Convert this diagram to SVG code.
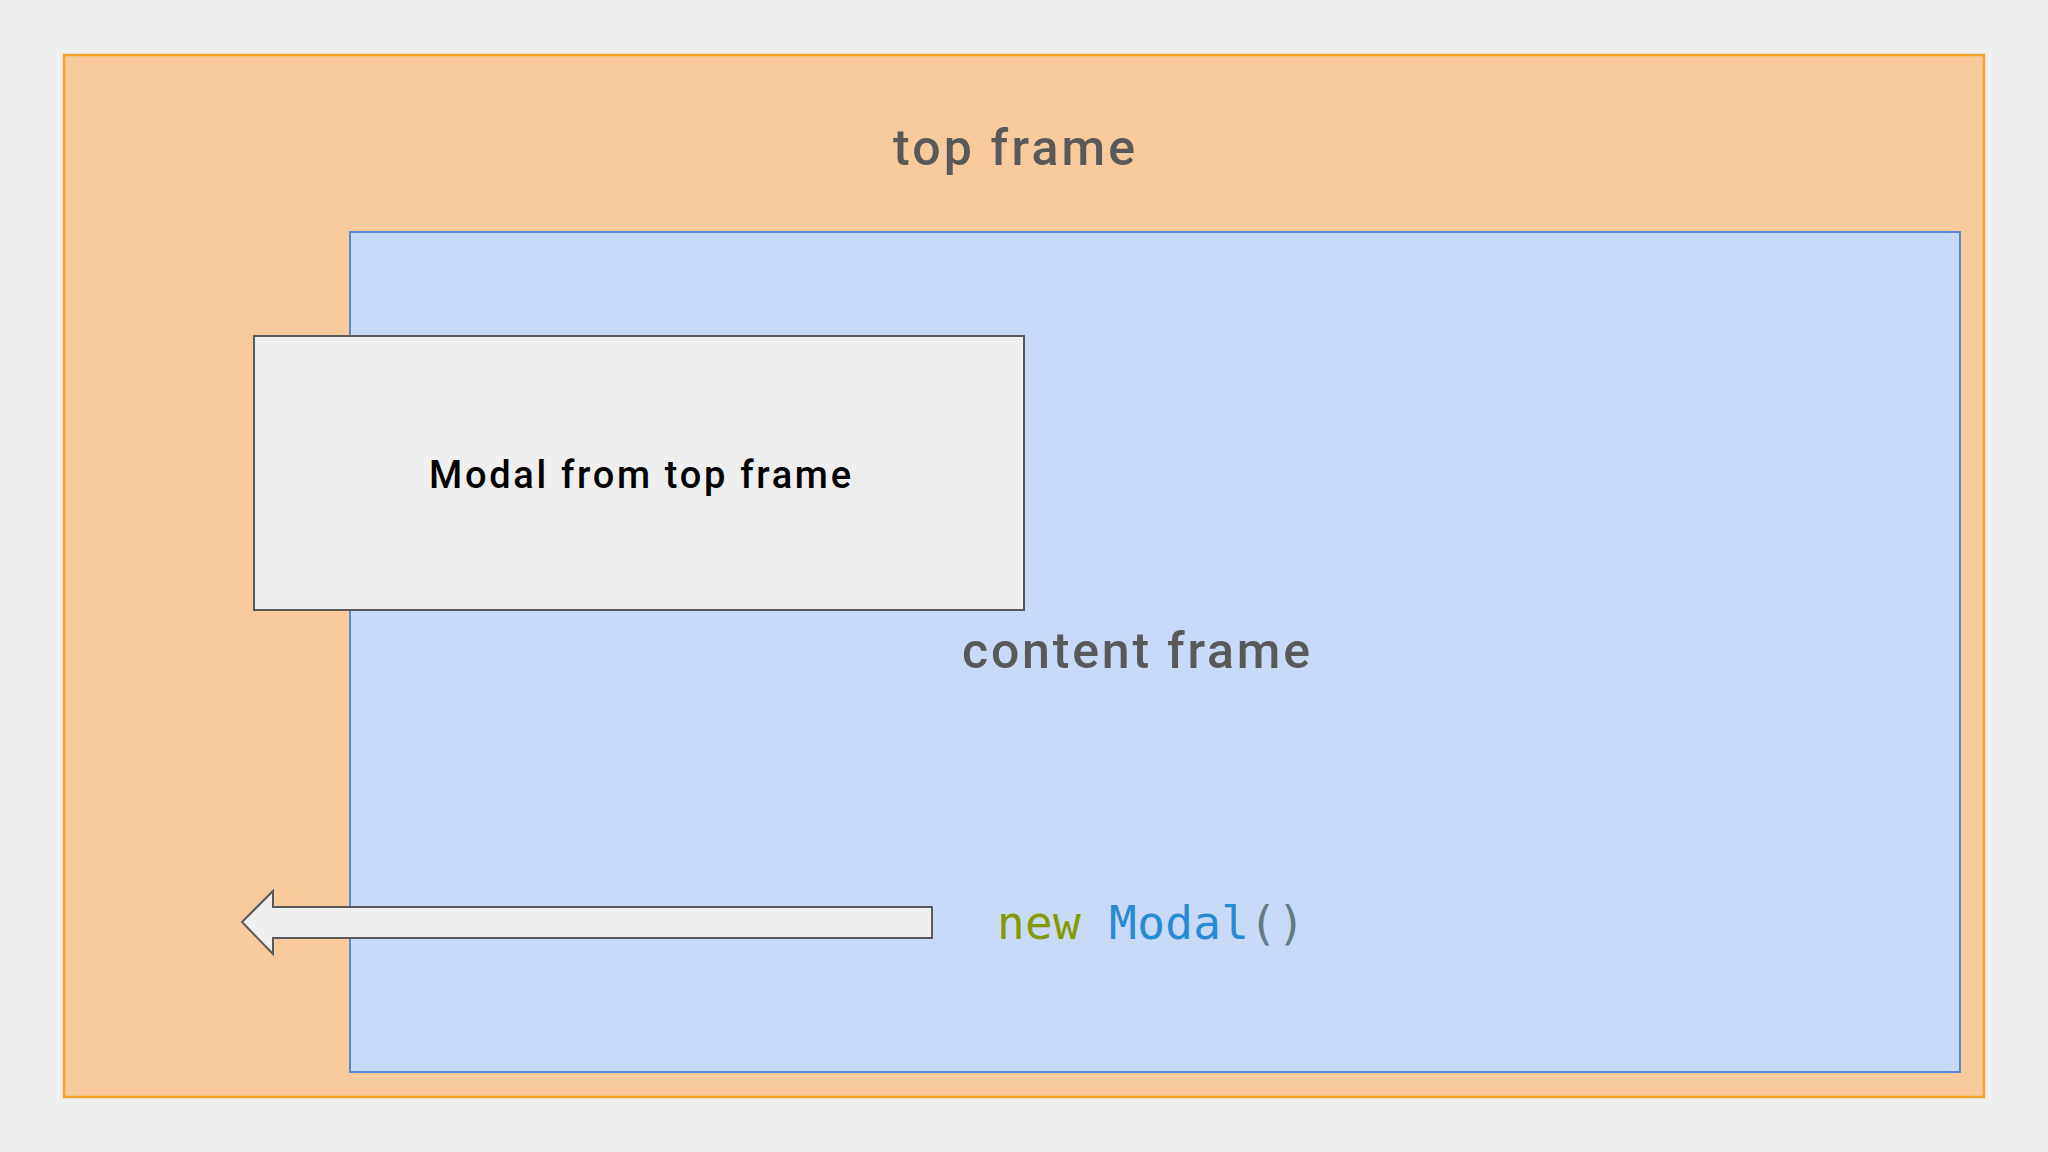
<svg xmlns="http://www.w3.org/2000/svg" width="2048" height="1152" viewBox="0 0 2048 1152">
<style>
.lbl{font-family:"Roboto","Open Sans","Liberation Sans",sans-serif;font-weight:500;fill:#595959;text-anchor:middle}
.code{font-family:"DejaVu Sans Mono","Liberation Mono",monospace;font-size:46px}
</style>
<rect x="0" y="0" width="2048" height="1152" fill="#efefef"/>
<g id="top-frame">
<rect x="64" y="55" width="1920" height="1042" fill="#f9cb9c" stroke="#f6a22b" stroke-width="2.5"/>
<text class="lbl" x="1014" y="165" font-size="50" textLength="242">top frame</text>
</g>
<g id="content-frame">
<rect x="350" y="232" width="1610" height="840" fill="#c9daf8" stroke="#5b87d6" stroke-width="2"/>
<text class="lbl" x="1136" y="668" font-size="50" textLength="348">content frame</text>
</g>
<g id="modal">
<rect x="254" y="336" width="770" height="274" fill="#efefef" stroke="#595959" stroke-width="2"/>
<text class="lbl" x="640" y="488" font-size="38" style="fill:#000" textLength="422">Modal from top frame</text>
</g>
<g id="code">
<text class="code" x="997" y="939" textLength="308"><tspan fill="#859900">new</tspan><tspan fill="#268bd2"> Modal</tspan><tspan fill="#657b83">()</tspan></text>
</g>
<g id="connectors">
<path d="M932,907 L273,907 L273,891 L242,922 L273,954 L273,938 L932,938 Z" fill="#efefef" stroke="#595959" stroke-width="2" stroke-linejoin="miter"/>
</g>
</svg>
